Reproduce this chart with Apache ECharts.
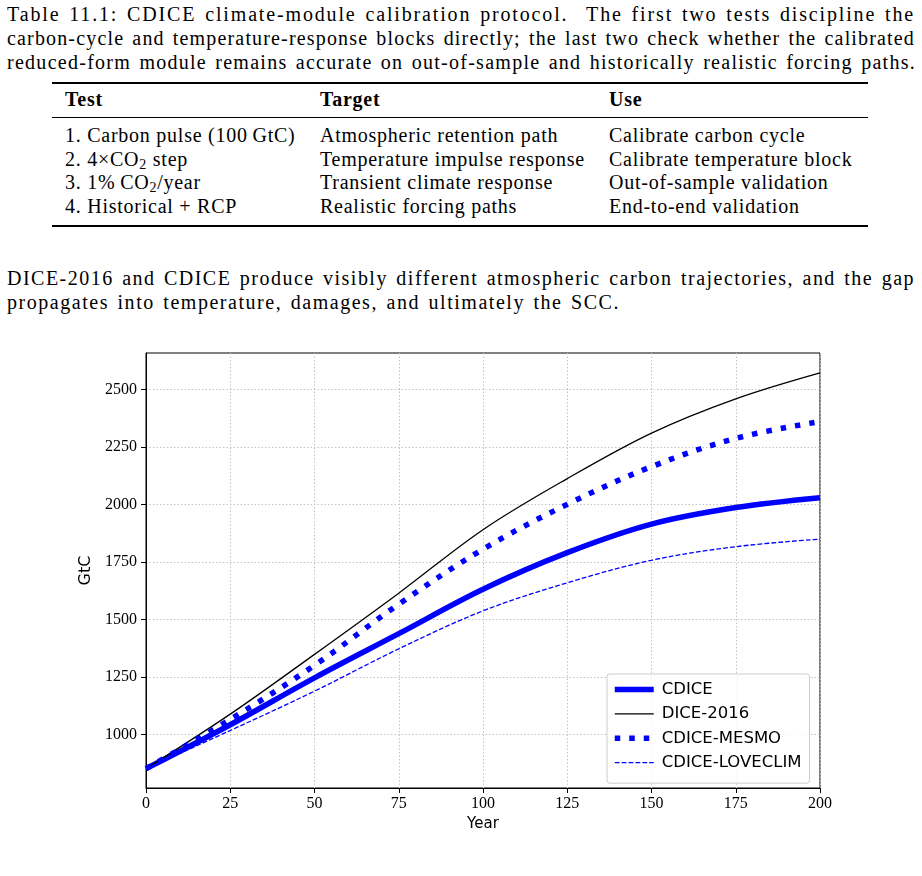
<!DOCTYPE html>
<html>
<head>
<meta charset="utf-8">
<script src="https://cdn.jsdelivr.net/npm/echarts@6/dist/echarts.min.js"></script>
<style>
  html, body { margin: 0; padding: 0; background: #fff; }
  #page { position: relative; width: 922px; height: 876px; overflow: hidden; }
  .t { position: absolute; white-space: nowrap; font-family: "Liberation Serif", serif; font-size: 20px; line-height: 24px; color: #000; }
  .t b { font-weight: bold; }
  .t sub { font-size: 14px; vertical-align: -3px; line-height: 0; }
  .rule { position: absolute; left: 52px; width: 816px; background: #000; }
  #main { position: absolute; left: 0; top: 330px; width: 922px; height: 546px; }
</style>
</head>
<body>
<div id="page">
  <div class="t" data-w="908" style="left:7px;top:2px">Table 11.1: CDICE climate-module calibration protocol. &nbsp;The first two tests discipline the</div>
  <div class="t" data-w="908" style="left:7px;top:26px">carbon-cycle and temperature-response blocks directly; the last two check whether the calibrated</div>
  <div class="t" data-w="909" style="left:7px;top:50px">reduced-form module remains accurate on out-of-sample and historically realistic forcing paths.</div>

  <div class="rule" style="top:82px;height:2px"></div>
  <div class="t" style="left:65px;top:87px"><b>Test</b></div>
  <div class="t" style="left:320px;top:87px"><b>Target</b></div>
  <div class="t" style="left:609px;top:87px"><b>Use</b></div>
  <div class="rule" style="top:117px;height:1px"></div>

  <div class="t" style="left:65px;top:123px">1. Carbon pulse (100&#8201;GtC)</div>
  <div class="t" style="left:320px;top:123px">Atmospheric retention path</div>
  <div class="t" style="left:609px;top:123px">Calibrate carbon cycle</div>
  <div class="t" style="left:65px;top:147px">2. 4×CO<sub>2</sub> step</div>
  <div class="t" id="ref" style="left:320px;top:147px">Temperature impulse response</div>
  <div class="t" style="left:609px;top:147px">Calibrate temperature block</div>
  <div class="t" style="left:65px;top:170px">3. 1%&#8201;CO<sub>2</sub>/year</div>
  <div class="t" style="left:320px;top:170px">Transient climate response</div>
  <div class="t" style="left:609px;top:170px">Out-of-sample validation</div>
  <div class="t" style="left:65px;top:194px">4. Historical + RCP</div>
  <div class="t" style="left:320px;top:194px">Realistic forcing paths</div>
  <div class="t" style="left:609px;top:194px">End-to-end validation</div>
  <div class="rule" style="top:225px;height:2px"></div>

  <div class="t" data-w="908" style="left:7px;top:266px">DICE-2016 and CDICE produce visibly different atmospheric carbon trajectories, and the gap</div>
  <div class="t" data-w="613" style="left:7px;top:290px">propagates into temperature, damages, and ultimately the SCC.</div>

  <div id="main"></div>
</div>
<script>
// 读图得到的数据 (GtC)
const years = [0, 25, 50, 75, 100, 125, 150, 175, 200]
const cdice = [851, 1042, 1246, 1438, 1631, 1790, 1914, 1986, 2029]
const dice2016 = [851, 1088, 1348, 1614, 1890, 2112, 2310, 2459, 2572]
const mesmo = [851, 1065, 1300, 1566, 1805, 2000, 2164, 2287, 2360]
const loveclim = [851, 1017, 1188, 1372, 1537, 1659, 1757, 1816, 1849]
const seriesNames = ['CDICE', 'DICE-2016', 'CDICE-MESMO', 'CDICE-LOVECLIM']
const yTicks = [1000, 1250, 1500, 1750, 2000, 2250, 2500]

// 文字宽度适配 (Times 比 Computer Modern 窄)
const fitText = () => {
  const ref = document.getElementById('ref')
  const w0 = ref.getBoundingClientRect().width
  const ls = (265 - w0) / ref.textContent.length
  document.querySelectorAll('.t').forEach((el) => { el.style.letterSpacing = ls + 'px' })
  // 整行对齐: 词距加 2px, 剩余的分到字距
  document.querySelectorAll('[data-w]').forEach((el) => {
    el.style.wordSpacing = '2px'
    const w = el.getBoundingClientRect().width
    el.style.letterSpacing = (ls + (+el.dataset.w - w) / el.textContent.length) + 'px'
  })
}
fitText()

const pairs = (ys) => years.map((x, i) => [x, ys[i]])
const blue = '#0000ff'
const tickFont = { fontFamily: 'Liberation Serif', fontSize: 16, color: '#000' }
const gridLine = { show: true, lineStyle: { color: '#c4c4c4', width: 1, type: [1.5, 2] } }

const myChart = echarts.init(document.getElementById('main'))
const option = {
  animation: false,
  grid: {
    left: 146, top: 23, width: 674, height: 435,
    show: true, borderColor: '#000', borderWidth: 1,
    outerBoundsMode: 'none'
  },
  xAxis: {
    type: 'value',
    min: 0, max: 200, interval: 25,
    name: 'Year', nameLocation: 'middle', nameGap: 29,
    nameTextStyle: { fontFamily: 'DejaVu Sans', fontSize: 15, color: '#000' },
    axisLine: { show: true, lineStyle: { color: '#000', width: 1 } },
    axisTick: { show: true, inside: false, length: 5, lineStyle: { color: '#000' } },
    axisLabel: { ...tickFont, margin: 8, formatter: (v) => String(v) },
    splitLine: gridLine
  },
  yAxis: {
    type: 'value',
    min: 767, max: 2658,
    name: 'GtC', nameLocation: 'middle', nameGap: 46, nameRotate: 90,
    nameTextStyle: { fontFamily: 'DejaVu Sans', fontSize: 16, color: '#000' },
    axisLine: { show: true, lineStyle: { color: '#000', width: 1 } },
    axisTick: { show: true, inside: false, length: 5, lineStyle: { color: '#000' }, customValues: yTicks },
    axisLabel: { ...tickFont, margin: 9, customValues: yTicks, formatter: (v) => String(v) },
    splitLine: gridLine
  },
  legend: {
    orient: 'vertical',
    left: 607, top: 344,
    padding: [7, 8, 12, 5],
    itemWidth: 39, itemHeight: 14, itemGap: 7.4,
    backgroundColor: 'rgba(255,255,255,0.85)',
    borderColor: '#cccccc', borderWidth: 1, borderRadius: 3,
    textStyle: { fontFamily: 'DejaVu Sans', fontSize: 16.5, color: '#000', padding: [0, 0, 0, 3] },
    lineStyle: { width: 'inherit', type: 'inherit', color: 'inherit' },
    itemStyle: { color: 'rgba(0,0,0,0)', borderWidth: 0, opacity: 0 },
    data: seriesNames
  },
  series: [
    {
      name: seriesNames[0], type: 'line', data: pairs(cdice),
      smooth: 0.35, symbol: 'none',
      lineStyle: { color: blue, width: 5.5 }, itemStyle: { color: blue }
    },
    {
      name: seriesNames[1], type: 'line', data: pairs(dice2016),
      smooth: 0.35, symbol: 'none',
      lineStyle: { color: '#000', width: 1.3 }, itemStyle: { color: '#000' }
    },
    {
      name: seriesNames[2], type: 'line', data: pairs(mesmo),
      smooth: 0.35, symbol: 'none',
      lineStyle: { color: blue, width: 5.5, type: [5.5, 9], cap: 'butt' }, itemStyle: { color: blue }
    },
    {
      name: seriesNames[3], type: 'line', data: pairs(loveclim),
      smooth: 0.35, symbol: 'none',
      lineStyle: { color: blue, width: 1.3, type: [4.8, 2.1] }, itemStyle: { color: blue }
    }
  ]
}
myChart.setOption(option)
window.addEventListener('resize', () => { myChart.resize() })
</script>
</body>
</html>
